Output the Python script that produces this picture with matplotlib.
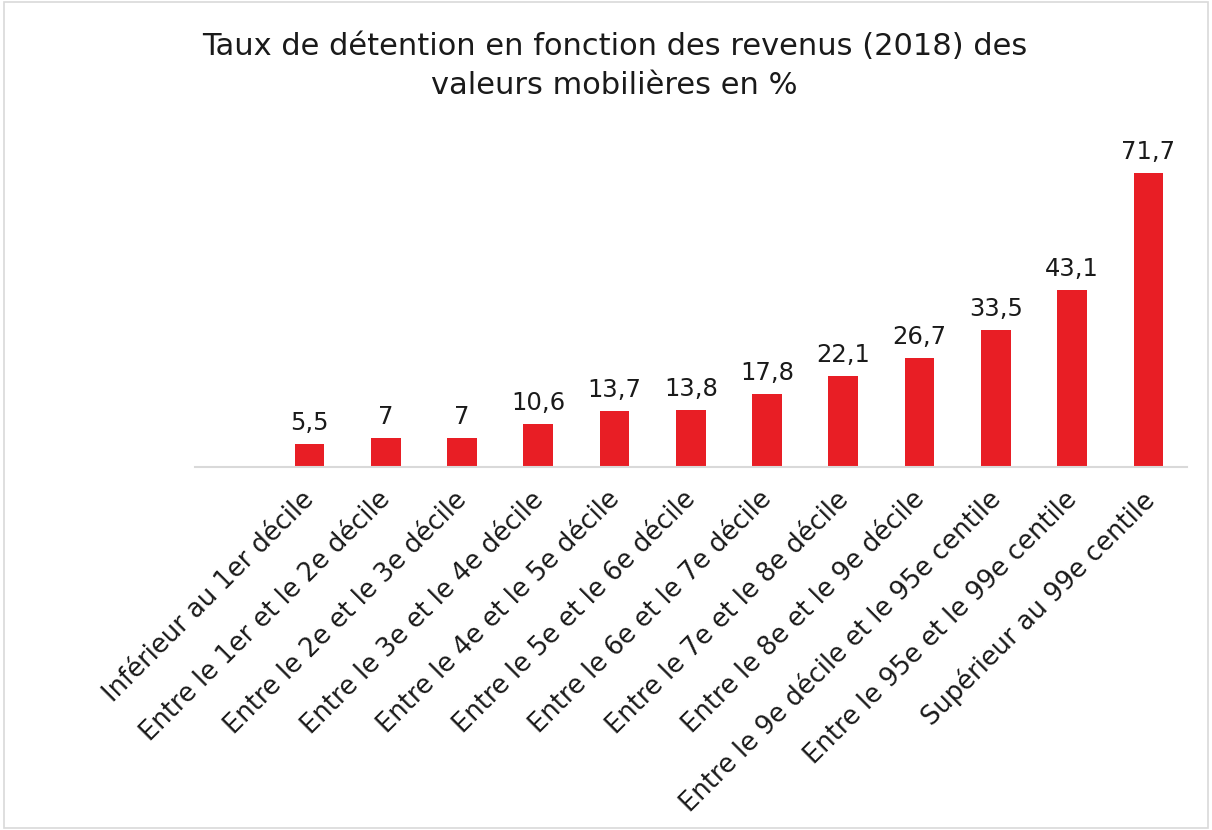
import numpy as np
import matplotlib.pyplot as plt
import matplotlib.transforms as mtransforms
from matplotlib.patches import Rectangle

categories = ['', 'Inférieur au 1er décile', 'Entre le 1er et le 2e décile',
              'Entre le 2e et le 3e décile', 'Entre le 3e et le 4e décile',
              'Entre le 4e et le 5e décile', 'Entre le 5e et le 6e décile',
              'Entre le 6e et le 7e décile', 'Entre le 7e et le 8e décile',
              'Entre le 8e et le 9e décile', 'Entre le 9e décile et le 95e centile',
              'Entre le 95e et le 99e centile', 'Supérieur au 99e centile']
values = [np.nan, 5.5, 7, 7, 10.6, 13.7, 13.8, 17.8, 22.1, 26.7, 33.5, 43.1, 71.7]
value_labels = ['', '5,5', '7', '7', '10,6', '13,7', '13,8', '17,8', '22,1', '26,7', '33,5', '43,1', '71,7']

plt.rcParams['font.family'] = ['DejaVu Sans']

fig = plt.figure(figsize=(12.12, 8.3), dpi=100)
ax = fig.add_axes([0.161, 0.4373, 0.818, 0.3952])

x = np.arange(len(categories))
ax.bar(x, values, width=0.39, color='#e81e25')
for xi, v, lab in zip(x, values, value_labels):
    if not np.isnan(v):
        ax.text(xi, v + 2.2, lab, ha='center', va='bottom', fontsize=17.5, color='#1a1a1a')

ax.set_xlim(-0.5, len(categories) - 0.5)
ax.set_ylim(0, 80)
ax.set_yticks([])
ax.set_xticks(x)
ax.set_xticklabels(categories, rotation=45, ha='right', rotation_mode='anchor',
                   fontsize=18.5, color='#1a1a1a')
ax.tick_params(axis='x', length=0, pad=14)
shift = mtransforms.ScaledTranslation(-8 / 100, 0, fig.dpi_scale_trans)
for lbl in ax.get_xticklabels():
    lbl.set_transform(lbl.get_transform() + shift)
for s in ['top', 'right', 'left']:
    ax.spines[s].set_visible(False)
ax.spines['bottom'].set_color('#d9d9d9')
ax.spines['bottom'].set_linewidth(1.5)

fig.text(0.507, 0.962, 'Taux de détention en fonction des revenus (2018) des\nvaleurs mobilières en %',
         ha='center', va='top', fontsize=22, color='#1a1a1a', linespacing=1.45)

fig.patches.append(Rectangle((0.003, 0.003), 0.994, 0.994, transform=fig.transFigure,
                             fill=False, edgecolor='#d9d9d9', linewidth=1.2))

fig.savefig('out.png', dpi=100)
